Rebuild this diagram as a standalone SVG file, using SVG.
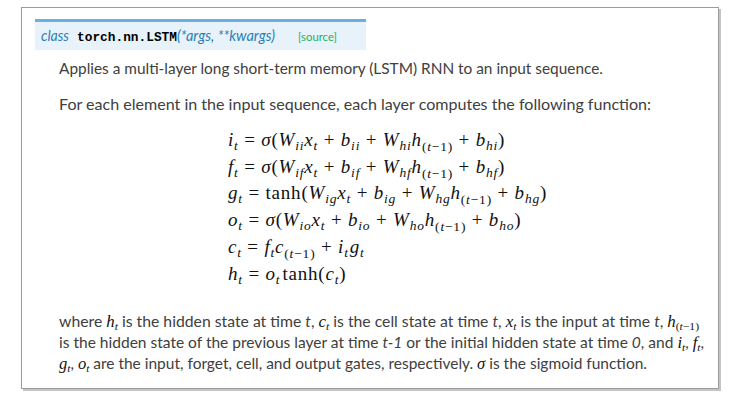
<svg xmlns="http://www.w3.org/2000/svg" width="747" height="400" viewBox="0 0 747 400">
<style>
.body{font-family:Lato,"Open Sans","Liberation Sans",sans-serif;font-size:15px;fill:#404040}
.em{font-style:italic}
.m{font-family:"Liberation Serif","DejaVu Serif",serif;font-size:19px;fill:#111;letter-spacing:0.8px}
.mi{font-family:"Liberation Serif","DejaVu Serif",serif;font-style:italic;font-size:16px;fill:#111}
.ms{font-family:"Liberation Serif","DejaVu Serif",serif;font-style:italic;font-size:11px;fill:#111}
.mu{font-family:"Liberation Serif","DejaVu Serif",serif;font-style:normal;font-size:11px;fill:#111}
.i{font-style:italic}
.s{font-size:13.5px;font-style:italic}
.su{font-size:13.5px;font-style:normal}
</style>
<g id="frame">
<rect x="23" y="9" width="698" height="382" fill="#c4c4c4"/>
<rect x="21.5" y="7.5" width="697" height="381" fill="#ffffff" stroke="#9c9c9c" stroke-width="1"/>
</g>
<g id="signature">
<rect x="35" y="19" width="331" height="31" fill="#e7f2fa"/>
<rect x="35" y="19" width="331" height="3" fill="#6ab0de"/>
<text x="41" y="41" font-family="Lato,'Open Sans','Liberation Sans',sans-serif" font-size="15" font-style="italic" fill="#2980b9" textLength="28" lengthAdjust="spacingAndGlyphs">class</text>
<text x="77" y="41" font-family="'Liberation Mono','DejaVu Sans Mono',monospace" font-size="13" font-weight="bold" fill="#000" textLength="100" lengthAdjust="spacingAndGlyphs">torch.nn.LSTM</text>
<text x="177" y="41" font-family="Lato,'Open Sans','Liberation Sans',sans-serif" font-size="15" font-style="italic" fill="#2980b9" textLength="98" lengthAdjust="spacingAndGlyphs">(*args, **kwargs)</text>
<text x="298" y="41" font-family="Lato,'Open Sans','Liberation Sans',sans-serif" font-size="11" fill="#27ae60" textLength="39" lengthAdjust="spacingAndGlyphs">[source]</text>
</g>
<g id="intro" class="body">
<text x="59" y="74" textLength="544" lengthAdjust="spacingAndGlyphs">Applies a multi-layer long short-term memory (LSTM) RNN to an input sequence.</text>
<text x="59" y="110" textLength="592" lengthAdjust="spacingAndGlyphs">For each element in the input sequence, each layer computes the following function:</text>
</g>
<g id="equations" class="m">
<text x="228" y="146"><tspan class="i">i</tspan><tspan class="s" dy="4">t</tspan><tspan dy="-4"> = </tspan><tspan class="i">σ</tspan>(<tspan class="i">W</tspan><tspan class="s" dy="4">ii</tspan><tspan class="i" dy="-4">x</tspan><tspan class="s" dy="4">t</tspan><tspan dy="-4"> + </tspan><tspan class="i">b</tspan><tspan class="s" dy="4">ii</tspan><tspan dy="-4"> + </tspan><tspan class="i">W</tspan><tspan class="s" dy="4">hi</tspan><tspan class="i" dy="-4">h</tspan><tspan class="su" dy="5">(<tspan class="i">t</tspan>−1)</tspan><tspan dy="-5"> + </tspan><tspan class="i">b</tspan><tspan class="s" dy="4">hi</tspan><tspan dy="-4">)</tspan></text>
<text x="228" y="173"><tspan class="i">f</tspan><tspan class="s" dy="4">t</tspan><tspan dy="-4"> = </tspan><tspan class="i">σ</tspan>(<tspan class="i">W</tspan><tspan class="s" dy="4">if</tspan><tspan class="i" dy="-4">x</tspan><tspan class="s" dy="4">t</tspan><tspan dy="-4"> + </tspan><tspan class="i">b</tspan><tspan class="s" dy="4">if</tspan><tspan dy="-4"> + </tspan><tspan class="i">W</tspan><tspan class="s" dy="4">hf</tspan><tspan class="i" dy="-4">h</tspan><tspan class="su" dy="5">(<tspan class="i">t</tspan>−1)</tspan><tspan dy="-5"> + </tspan><tspan class="i">b</tspan><tspan class="s" dy="4">hf</tspan><tspan dy="-4">)</tspan></text>
<text x="228" y="199"><tspan class="i">g</tspan><tspan class="s" dy="4">t</tspan><tspan dy="-4"> = tanh(</tspan><tspan class="i">W</tspan><tspan class="s" dy="4">ig</tspan><tspan class="i" dy="-4">x</tspan><tspan class="s" dy="4">t</tspan><tspan dy="-4"> + </tspan><tspan class="i">b</tspan><tspan class="s" dy="4">ig</tspan><tspan dy="-4"> + </tspan><tspan class="i">W</tspan><tspan class="s" dy="4">hg</tspan><tspan class="i" dy="-4">h</tspan><tspan class="su" dy="5">(<tspan class="i">t</tspan>−1)</tspan><tspan dy="-5"> + </tspan><tspan class="i">b</tspan><tspan class="s" dy="4">hg</tspan><tspan dy="-4">)</tspan></text>
<text x="228" y="226"><tspan class="i">o</tspan><tspan class="s" dy="4">t</tspan><tspan dy="-4"> = </tspan><tspan class="i">σ</tspan>(<tspan class="i">W</tspan><tspan class="s" dy="4">io</tspan><tspan class="i" dy="-4">x</tspan><tspan class="s" dy="4">t</tspan><tspan dy="-4"> + </tspan><tspan class="i">b</tspan><tspan class="s" dy="4">io</tspan><tspan dy="-4"> + </tspan><tspan class="i">W</tspan><tspan class="s" dy="4">ho</tspan><tspan class="i" dy="-4">h</tspan><tspan class="su" dy="5">(<tspan class="i">t</tspan>−1)</tspan><tspan dy="-5"> + </tspan><tspan class="i">b</tspan><tspan class="s" dy="4">ho</tspan><tspan dy="-4">)</tspan></text>
<text x="228" y="253"><tspan class="i">c</tspan><tspan class="s" dy="4">t</tspan><tspan dy="-4"> = </tspan><tspan class="i">f</tspan><tspan class="s" dy="4">t</tspan><tspan class="i" dy="-4">c</tspan><tspan class="su" dy="5">(<tspan class="i">t</tspan>−1)</tspan><tspan dy="-5"> + </tspan><tspan class="i">i</tspan><tspan class="s" dy="4">t</tspan><tspan class="i" dy="-4" dx="1">g</tspan><tspan class="s" dy="4">t</tspan></text>
<text x="228" y="280"><tspan class="i">h</tspan><tspan class="s" dy="4">t</tspan><tspan dy="-4"> = </tspan><tspan class="i">o</tspan><tspan class="s" dy="4">t</tspan><tspan dy="-4" dx="2">tanh(</tspan><tspan class="i">c</tspan><tspan class="s" dy="4">t</tspan><tspan dy="-4">)</tspan></text>
</g>
<g id="explanation" class="body">
<text x="59" y="327" textLength="640" lengthAdjust="spacingAndGlyphs">where <tspan class="mi">h</tspan><tspan class="ms" dy="3">t</tspan><tspan dy="-3"> is the hidden state at time </tspan><tspan class="em">t</tspan>, <tspan class="mi">c</tspan><tspan class="ms" dy="3">t</tspan><tspan dy="-3"> is the cell state at time </tspan><tspan class="em">t</tspan>, <tspan class="mi">x</tspan><tspan class="ms" dy="3">t</tspan><tspan dy="-3"> is the input at time </tspan><tspan class="em">t</tspan>, <tspan class="mi">h</tspan><tspan class="mu" dy="3">(<tspan font-style="italic">t</tspan>−1)</tspan></text>
<text x="59" y="348" textLength="645" lengthAdjust="spacingAndGlyphs">is the hidden state of the previous layer at time <tspan class="em">t-1</tspan> or the initial hidden state at time <tspan class="em">0</tspan>, and <tspan class="mi">i</tspan><tspan class="ms" dy="3">t</tspan><tspan dy="-3">, </tspan><tspan class="mi">f</tspan><tspan class="ms" dy="3">t</tspan><tspan dy="-3">,</tspan></text>
<text x="59" y="369" textLength="588" lengthAdjust="spacingAndGlyphs"><tspan class="mi">g</tspan><tspan class="ms" dy="3">t</tspan><tspan dy="-3">, </tspan><tspan class="mi">o</tspan><tspan class="ms" dy="3">t</tspan><tspan dy="-3"> are the input, forget, cell, and output gates, respectively. </tspan><tspan class="mi">σ</tspan> is the sigmoid function.</text>
</g>
</svg>
